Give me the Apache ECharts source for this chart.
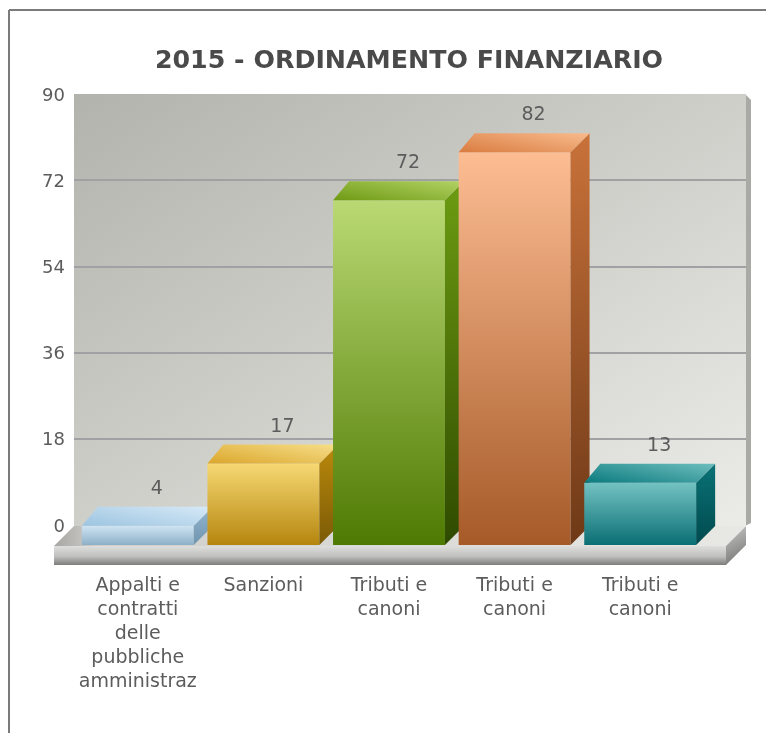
<!DOCTYPE html>
<html><head><meta charset="utf-8">
<style>html,body{margin:0;padding:0;background:#fff}#c{width:766px;height:733px}</style>
<script src="https://cdn.jsdelivr.net/npm/echarts@6/dist/echarts.min.js"></script>
</head><body><div id="c"></div>
<script>
const titleText = '2015 - ORDINAMENTO FINANZIARIO';
const categories = ['Appalti e\ncontratti\ndelle\npubbliche\namministraz','Sanzioni','Tributi e\ncanoni','Tributi e\ncanoni','Tributi e\ncanoni'];
const values = [4, 17, 72, 82, 13];
const yMax = 90;
const yStep = 18;
const frontColors = [['#cfe4f3','#8db0c8'],['#f6d873','#b5860e'],['#bad974','#4e7a02'],['#fdbd93','#a65a28'],['#74c2c2','#0a6f74']];
const sideColors  = [['#93b5d0','#7095ae'],['#bb8a0c','#7b5a06'],['#6d9c12','#2f4a00'],['#c9723a','#6e3917'],['#0a7276','#004a4e']];
const topColors   = [['#9cc4e0','#d6e9f7'],['#dba62c','#f6de88'],['#6f9a14','#b2d264'],['#d97c40','#f8ba8c'],['#0a7a7e','#6ebdbd']];
const DX = 19, DY = 19;
const grad = (c, x, y, x2, y2) => ({type:'linear',x,y,x2,y2,colorStops:[{offset:0,color:c[0]},{offset:1,color:c[1]}]});
const textColor = '#5c5c5c';
const chart = echarts.init(document.getElementById('c'), null, {renderer:'canvas'});
chart.setOption({
  animation:false,
  backgroundColor:'#ffffff',
  title:{text:titleText,left:404,top:44,textAlign:'center',textStyle:{fontFamily:'DejaVu Sans',fontWeight:'bold',fontSize:25.3,color:'#4a4a4a'}},
  grid:[
    {left:74,right:20,top:94,bottom:208},
    {left:75,right:63,top:114,bottom:188},
    {left:74,right:20,top:96,bottom:206}
  ],
  xAxis:[
    {gridIndex:0,type:'category',data:categories,show:false},
    {gridIndex:1,type:'category',data:categories,
      axisLine:{show:false},axisTick:{show:false},
      axisLabel:{interval:0,margin:29,fontFamily:'DejaVu Sans',fontSize:19,lineHeight:24,color:textColor}},
    {gridIndex:2,type:'category',data:categories,show:false}
  ],
  yAxis:[
    {gridIndex:0,type:'value',min:0,max:yMax,interval:yStep,
      axisLine:{show:false},axisTick:{show:false},axisLabel:{show:false},
      splitLine:{show:true,showMinLine:false,showMaxLine:false,lineStyle:{color:'#a0a1a2',width:2}}},
    {gridIndex:1,type:'value',min:0,max:yMax,interval:yStep,show:false,splitLine:{show:false}},
    {gridIndex:2,type:'value',min:0,max:yMax,interval:yStep,
      axisLine:{show:false},axisTick:{show:false},splitLine:{show:false},
      axisLabel:{margin:9,fontFamily:'DejaVu Sans',fontSize:18,color:textColor}}
  ],
  graphic:{elements:[
    {type:'line',z:-20,silent:true,shape:{x1:9,y1:10,x2:766,y2:10},style:{stroke:'#7b7b7b',lineWidth:2}},
    {type:'line',z:-20,silent:true,shape:{x1:9,y1:10,x2:9,y2:733},style:{stroke:'#7b7b7b',lineWidth:2}},
    {type:'polygon',z:-19,silent:true,shape:{points:[[745,94],[751,100],[751,523],[745,526]]},style:{fill:'#a9a9a6'}},
    {type:'rect',z:-18,silent:true,shape:{x:74,y:94,width:672,height:432},
      style:{fill:{type:'linear',x:0,y:0,x2:0.585,y2:1.415,colorStops:[{offset:0,color:'#b3b3ad'},{offset:0.5,color:'#cfcfca'},{offset:1,color:'#ebebe8'}]}}},
    {type:'polygon',z:-17,silent:true,shape:{points:[[54,546],[74,526],[746,526],[726,546]]},
      style:{fill:{type:'linear',x:0,y:0,x2:1,y2:0,colorStops:[{offset:0,color:'#a8a6a2'},{offset:0.06,color:'#cfcecb'},{offset:1,color:'#e8e8e5'}]}}},
    {type:'rect',z:-16,silent:true,shape:{x:54,y:546,width:672,height:19},
      style:{fill:{type:'linear',x:0,y:0,x2:0,y2:1,colorStops:[{offset:0,color:'#dededc'},{offset:0.55,color:'#bfbfbd'},{offset:1,color:'#7c7c7c'}]}}},
    {type:'polygon',z:-16,silent:true,shape:{points:[[726,546],[746,526],[746,545],[726,565]]},
      style:{fill:{type:'linear',x:0,y:0,x2:1,y2:1,colorStops:[{offset:0,color:'#c8c8c6'},{offset:1,color:'#6f6f6f'}]}}}
  ]},
  series:[{
    type:'custom',xAxisIndex:1,yAxisIndex:1,clip:false,z:5,
    data:values.map((v,i)=>[i,v]),
    encode:{x:0,y:1},
    renderItem(params,api){
      const i=api.value(0), v=api.value(1);
      const top=api.coord([i,v]), base=api.coord([i,0]);
      const w=api.size([1,0])[0]*112/125.7;
      const l=top[0]-w/2, r=top[0]+w/2, t=top[1], b=base[1];
      return {type:'group',children:[
        {type:'rect',shape:{x:l,y:t,width:r-l,height:b-t},style:{fill:grad(frontColors[i],0,0,0,1)}},
        {type:'polygon',shape:{points:[[r,t],[r+DX,t-DY],[r+DX,b-DY],[r,b]]},style:{fill:grad(sideColors[i],0,0,0,1)}},
        {type:'polygon',shape:{points:[[l,t],[l+DX-3,t-DY],[r+DX,t-DY],[r,t]]},style:{fill:grad(topColors[i],0,1,0.056,-1.15)}},
        {type:'text',style:{text:String(v),x:top[0]+DX,y:t-DY-18,align:'center',verticalAlign:'middle',fontFamily:'DejaVu Sans',fontSize:19,fill:textColor}}
      ]};
    }
  }]
});
</script></body></html>
